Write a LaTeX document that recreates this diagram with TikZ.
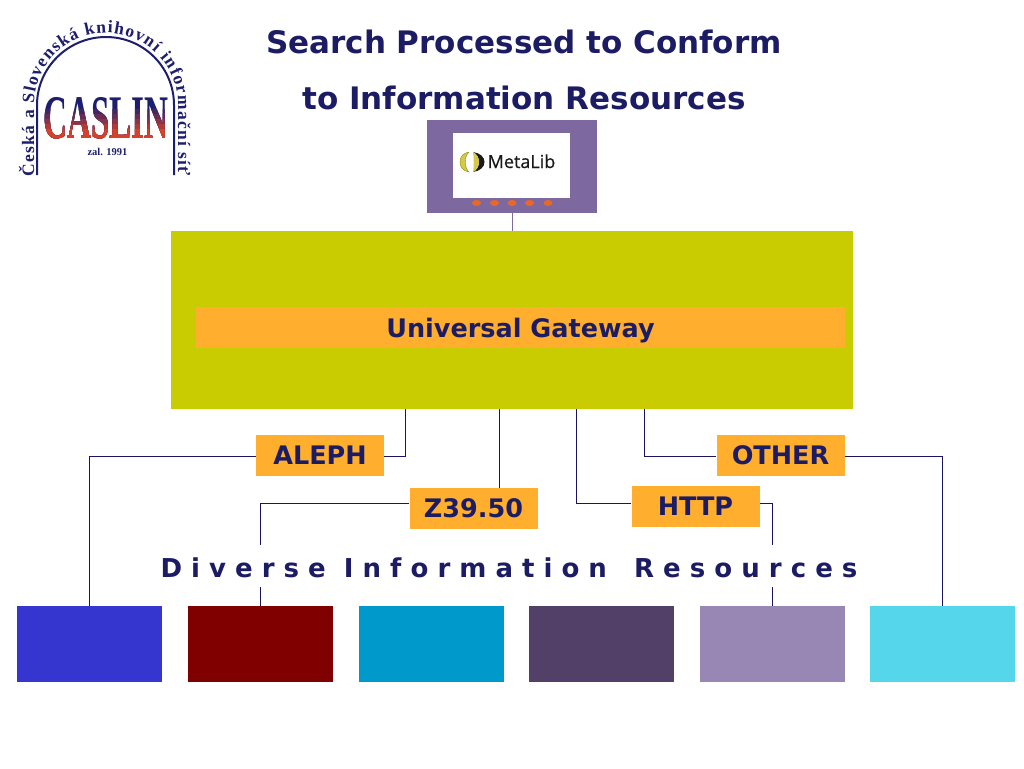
\documentclass[tikz,border=0pt]{standalone}
\usepackage{fontspec}
\setmainfont{DejaVu Sans}
\newfontfamily\logofont{Liberation Serif}[BoldFont={Liberation Serif Bold}]
\newfontfamily\metafont{Open Sans}[FakeBold=0.5]
\usetikzlibrary{decorations.text,shapes.geometric}
\definecolor{navy}{HTML}{1C1C64}
\definecolor{linkblue}{HTML}{1B1464}
\definecolor{violet}{HTML}{7D68A0}
\definecolor{olive}{HTML}{C8CC00}
\definecolor{amber}{HTML}{FFAE2E}
\definecolor{dotorange}{HTML}{EA6826}
\definecolor{logoblue}{HTML}{1E1E6E}
\definecolor{logored}{HTML}{D8402A}
\definecolor{crescent}{HTML}{D6C94A}
\tikzset{
  title/.style={text=navy,font=\fontsize{31}{31}\selectfont\bfseries,inner sep=0pt},
  tag/.style={fill=amber,text=navy,font=\fontsize{25.5}{25.5}\selectfont\bfseries,minimum width=128pt,minimum height=41pt,inner sep=0pt},
  link/.style={draw=linkblue,line width=1pt},
  res/.style={minimum width=145pt,minimum height=76pt,inner sep=0pt},
  led/.style={fill=dotorange,ellipse,minimum width=9pt,minimum height=6pt,inner sep=0pt},
  caslinword/.style={font=\logofont\bfseries\fontsize{62}{62}\selectfont,xscale=.535,inner sep=0pt},
}
\begin{document}
\begin{tikzpicture}[x=1pt,y=-1pt]
  \useasboundingbox (0,0) rectangle (1024,768);
  % heading
  \node[title] (head1) at (524,42) {Search Processed to Conform};
  \node[title] (head2) at (524,98) {to Information Resources};
  % logo
  \draw[logoblue,line width=2pt] (37,175)--(37,105) .. controls (37,67.4) and (68.4,37) .. (106,37) .. controls (143.6,37) and (174,67.4) .. (174,105)--(174,175);
  \path[decorate,decoration={text along path,text align={fit to path},text color=logoblue,
    text={|\logofont\fontsize{17.5}{17.5}\selectfont\bfseries|Česká a Slovenská knihovní informační síť}}]
    (34,176)--(34,105) .. controls (34,65.2) and (66.2,33) .. (106,33) .. controls (145.8,33) and (178,65.2) .. (178,105)--(178,176);
  \foreach \ytop/\pct [count=\n] in {90/0,109/20,114/40,119/60,124/80,129/100}{
    \begin{scope}
      \clip (30,\ytop) rectangle (180,146);
      \node[caslinword,text=logored!\pct!logoblue] (caslin\n) at (106,118.5) {CASLIN};
    \end{scope}
  }
  \node[text=logoblue,font=\logofont\bfseries\fontsize{10.5}{10.5}\selectfont,inner sep=0pt] (founded) at (107.5,152) {zal. 1991};
  % terminal
  \node[fill=violet,minimum width=170pt,minimum height=93pt,inner sep=0pt] (terminal) at (512,166.5) {};
  \node[fill=white,minimum width=117pt,minimum height=65pt,inner sep=0pt] (screen) at (511.5,165.5) {};
  \node[font=\metafont\fontsize{18}{18}\selectfont,text=black!90,inner sep=0pt,anchor=base] (metalib) at (521.5,168) {MetaLib};
  \fill[black!90] (473,152) .. controls (480,153) and (484.5,157) .. (484.5,162) .. controls (484.5,167) and (480,171) .. (473,172) .. controls (481,168) and (481,156) .. (473,152);
  \fill[crescent] (473,152) .. controls (474,156) and (474,168) .. (473,172) .. controls (481,168) and (481,156) .. (473,152);
  \fill[crescent,draw=olive!70!black,line width=.4pt] (469,152) .. controls (463,153) and (460,157) .. (460,162) .. controls (460,167) and (463,171) .. (469,172) .. controls (464,168) and (464,156) .. (469,152);
  \foreach \px [count=\n] in {476.5,494.5,512,529.5,548}
    \node[led] (led\n) at (\px,203) {};
  % gateway
  \node[fill=olive,minimum width=682pt,minimum height=178pt,inner sep=0pt] (gateway) at (512,320) {};
  \node[fill=amber,text=navy,font=\fontsize{25.5}{25.5}\selectfont\bfseries,minimum width=649pt,minimum height=41pt,inner sep=0pt,text depth=0pt] (bar) at (520.5,327.5) {Universal Gateway};
  \draw[draw=violet,line width=1pt] (terminal.south)--(gateway.north);
  % protocols
  \node[tag] (aleph) at (320,455.5) {ALEPH};
  \node[tag] (zed) at (473.5,508.5) {Z39.50};
  \node[tag] (http) at (695.5,506.5) {HTTP};
  \node[tag] (other) at (780.5,455.5) {OTHER};
  % resources
  \node[res,fill={rgb,255:red,53;green,53;blue,207}] (res1) at (89.5,644) {};
  \node[res,fill={rgb,255:red,128;green,0;blue,0}] (res2) at (260.5,644) {};
  \node[res,fill={rgb,255:red,0;green,153;blue,204}] (res3) at (431.5,644) {};
  \node[res,fill={rgb,255:red,82;green,64;blue,105}] (res4) at (601.5,644) {};
  \node[res,fill={rgb,255:red,152;green,134;blue,180}] (res5) at (772.5,644) {};
  \node[res,fill={rgb,255:red,85;green,214;blue,234}] (res6) at (942.5,644) {};
  \node[text=navy,font=\fontsize{26}{26}\selectfont\bfseries,inner sep=0pt] (diverse) at (509,568) {D i v e r s e\ \ I n f o r m a t i o n\ \ \ R e s o u r c e s};
  \coordinate (zedup) at (260.5,545);
  \coordinate (zeddown) at (260.5,587);
  \coordinate (httpup) at (772.5,545);
  \coordinate (httpdown) at (772.5,587);
  \draw[link] ([xshift=-107pt]gateway.south) |- ([yshift=-.5pt]aleph.east);
  \draw[link] ([yshift=-.5pt]aleph.west) -| (res1.north);
  \draw[link] ([xshift=-13pt]gateway.south) -- ([xshift=25.5pt]zed.north);
  \draw[link] ([yshift=5.5pt]zed.west) -| (zedup);
  \draw[link] (zeddown) -- (res2.north);
  \draw[link] ([xshift=64pt]gateway.south) |- ([yshift=3.5pt]http.west);
  \draw[link] ([yshift=3.5pt]http.east) -| (httpup);
  \draw[link] (httpdown) -- (res5.north);
  \draw[link] ([xshift=132pt]gateway.south) |- ([yshift=-.5pt]other.west);
  \draw[link] ([yshift=-.5pt]other.east) -| (res6.north);
\end{tikzpicture}
\end{document}
